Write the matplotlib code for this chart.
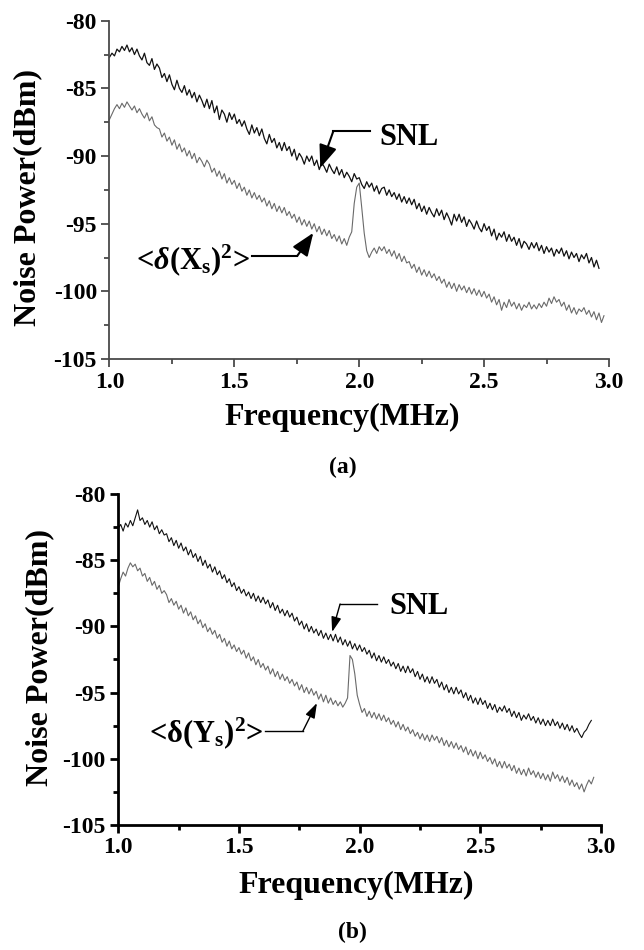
import numpy as np
import matplotlib
matplotlib.use("Agg")
import matplotlib.pyplot as plt

plt.rcParams["font.family"] = ["Liberation Serif", "DejaVu Serif"]
plt.rcParams["font.weight"] = "bold"
plt.rcParams["axes.unicode_minus"] = False
plt.rcParams["mathtext.fontset"] = "custom"
plt.rcParams["mathtext.rm"] = "Liberation Serif:bold"
plt.rcParams["mathtext.it"] = "Liberation Serif:italic:bold"
plt.rcParams["mathtext.bf"] = "Liberation Serif:bold"

# frequency grid (MHz), 1.00 ... 2.99 in 0.01 steps
freq = np.round(np.arange(1.0, 2.995, 0.01), 2)

# panel (a): shot noise limit and squeezed X quadrature
snl_a = [
    -82.7, -82.4, -82.6, -82.1, -82.3, -81.9, -82.2, -81.8, -82.3, -82.0,
    -82.5, -82.1, -82.6, -82.9, -82.4, -83.1, -83.3, -82.8, -83.6, -83.2,
    -83.5, -84.2, -83.9, -84.5, -84.0, -84.7, -85.1, -84.4, -85.0, -85.3,
    -84.8, -85.5, -85.1, -85.7, -85.3, -86.0, -85.5, -85.9, -86.4, -85.8,
    -86.5, -85.9, -86.8, -86.3, -87.3, -86.6, -86.9, -87.5, -86.8, -87.3,
    -86.9, -87.6, -87.3, -87.8, -87.4, -88.0, -88.4, -87.7, -88.3, -87.9,
    -88.5, -88.0, -88.7, -89.1, -88.4, -89.0, -88.7, -89.4, -89.0, -89.6,
    -89.0, -89.6, -89.3, -90.0, -89.5, -90.3, -89.8, -90.1, -90.6, -90.0,
    -90.4, -90.0, -90.7, -90.3, -91.0, -90.5, -90.8, -91.2, -90.6, -91.0,
    -91.3, -90.8, -91.4, -91.0, -91.6, -91.2, -91.5, -91.9, -91.3, -91.7,
    -91.6, -92.1, -92.4, -91.9, -92.3, -92.0, -92.6, -92.2, -92.8, -92.4,
    -92.3, -92.9, -92.5, -93.0, -92.7, -93.2, -92.8, -93.4, -93.0, -93.5,
    -93.1, -93.6, -93.2, -93.9, -93.5, -94.1, -93.7, -94.3, -93.8, -94.2,
    -94.5, -93.9, -94.4, -94.0, -94.7, -94.2, -94.6, -95.1, -94.3, -94.8,
    -94.3, -94.9, -94.5, -95.2, -94.7, -95.0, -95.4, -94.8, -95.3, -95.6,
    -95.0, -95.5, -95.2, -95.9, -95.4, -96.2, -95.7, -96.0, -95.6, -96.3,
    -95.8, -96.3, -96.0, -96.6, -96.1, -96.8, -96.3, -96.5, -96.9, -96.4,
    -96.8, -96.4, -97.0, -96.6, -97.2, -96.7, -97.1, -96.8, -97.4, -96.9,
    -97.2, -96.8, -97.4, -97.0, -97.6, -97.1, -97.5, -97.2, -97.8, -97.3,
    -97.6, -97.2, -97.9, -97.5, -98.2, -97.7, -98.3,
]
sq_a = [
    -87.3, -86.9, -86.5, -86.2, -86.5, -86.1, -86.4, -86.0, -86.3, -86.6,
    -86.3, -86.8, -86.5, -86.9, -87.2, -86.8, -87.4, -87.1, -87.7, -87.9,
    -88.0, -88.6, -88.3, -88.9, -88.6, -89.2, -88.8, -89.5, -89.1, -89.7,
    -89.4, -90.0, -89.6, -90.2, -89.8, -90.5, -90.1, -90.4, -90.8, -90.3,
    -90.6, -91.2, -90.9, -91.5, -91.1, -91.7, -91.3, -92.0, -91.6, -92.1,
    -91.8, -92.4, -92.0, -92.6, -92.3, -92.9, -92.5, -93.1, -92.7, -93.2,
    -92.9, -93.4, -93.1, -93.7, -93.3, -93.9, -93.5, -94.1, -93.7, -94.2,
    -93.8, -94.4, -94.1, -94.6, -94.3, -94.9, -94.5, -95.1, -94.7, -95.2,
    -94.8, -95.4, -95.0, -95.6, -95.2, -95.8, -95.4, -95.9, -95.5, -96.1,
    -95.8, -96.3, -95.9, -96.5, -96.1, -96.6, -96.0, -95.6, -93.5, -92.3,
    -92.0, -93.8, -95.7, -97.0, -97.5, -97.1, -96.8, -97.2, -96.7, -97.0,
    -96.7, -97.2, -96.9, -97.4, -97.0, -97.6, -97.2, -97.8, -97.4, -97.9,
    -97.8, -98.3, -98.0, -98.6, -98.2, -98.8, -98.4, -98.9, -98.5, -99.0,
    -98.7, -99.2, -98.9, -99.4, -99.1, -99.7, -99.3, -99.8, -99.4, -100.0,
    -99.5, -99.9, -99.6, -100.1, -99.7, -100.2, -99.8, -100.3, -99.9, -100.4,
    -100.0, -100.5, -100.2, -100.8, -100.4, -101.0, -100.6, -101.4, -100.8, -101.2,
    -100.6, -101.1, -100.8, -101.3, -100.9, -101.4, -101.0, -101.2, -100.8, -101.3,
    -101.0, -101.3, -100.9, -101.2, -100.8, -101.1, -100.5, -100.9, -100.4, -100.8,
    -100.6, -101.1, -100.8, -101.4, -101.0, -101.6, -101.2, -101.7, -101.3, -101.5,
    -101.2, -101.7, -101.4, -101.9, -101.5, -102.1, -101.6, -102.3, -101.8,
]

# panel (b): shot noise limit and squeezed Y quadrature
snl_b = [
    -82.6, -82.3, -82.8, -82.2, -82.5, -82.0, -82.4, -81.8, -81.2, -82.0,
    -81.8, -82.3, -82.0, -82.5, -82.1, -82.7, -82.4, -83.0, -82.7, -83.1,
    -83.0, -83.6, -83.3, -83.9, -83.5, -84.1, -83.7, -84.3, -84.0, -84.6,
    -84.2, -84.8, -84.5, -85.1, -84.7, -85.4, -85.0, -85.6, -85.3, -85.9,
    -85.5, -86.1, -85.8, -86.4, -86.1, -86.7, -86.4, -87.0, -86.7, -87.3,
    -87.0, -87.5, -87.2, -87.7, -87.4, -87.9, -87.5, -88.1, -87.7, -88.2,
    -87.8, -88.3, -88.0, -88.6, -88.2, -88.8, -88.4, -89.0, -88.7, -89.2,
    -88.8, -89.3, -89.0, -89.6, -89.3, -89.9, -89.6, -90.2, -89.8, -90.4,
    -90.0, -90.5, -90.2, -90.7, -90.3, -90.9, -90.5, -91.0, -90.6, -91.1,
    -90.6, -91.2, -90.8, -91.4, -91.0, -91.5, -91.1, -91.7, -91.3, -91.8,
    -91.4, -91.9, -91.6, -92.1, -91.8, -92.4, -92.0, -92.6, -92.2, -92.7,
    -92.3, -92.8, -92.5, -93.0, -92.7, -93.2, -92.8, -93.4, -93.0, -93.5,
    -93.0, -93.5, -93.2, -93.8, -93.4, -94.0, -93.6, -94.2, -93.8, -94.3,
    -93.8, -94.3, -94.0, -94.6, -94.2, -94.8, -94.4, -95.0, -94.6, -95.1,
    -94.6, -95.1, -94.8, -95.4, -95.0, -95.6, -95.2, -95.8, -95.4, -95.9,
    -95.4, -95.9, -95.6, -96.2, -95.8, -96.3, -95.9, -96.5, -96.1, -96.4,
    -96.0, -96.5, -96.2, -96.8, -96.4, -96.9, -96.5, -97.1, -96.7, -97.0,
    -96.6, -97.1, -96.8, -97.3, -96.9, -97.4, -97.0, -97.5, -97.1, -97.5,
    -97.0, -97.5, -97.2, -97.7, -97.3, -97.8, -97.4, -97.9, -97.5, -98.0,
    -97.7, -98.1, -98.4, -98.0, -97.8, -97.4, -97.1,
]
sq_b = [
    -87.0, -86.4, -85.9, -86.2, -85.6, -85.2, -85.5, -85.3, -85.8, -85.6,
    -86.2, -86.0, -86.6, -86.3, -86.9, -86.6, -87.2, -86.9, -87.5, -87.3,
    -87.6, -88.2, -87.9, -88.4, -88.1, -88.7, -88.4, -89.0, -88.6, -89.2,
    -88.9, -89.5, -89.2, -89.8, -89.5, -90.1, -89.8, -90.4, -90.1, -90.6,
    -90.3, -90.9, -90.6, -91.2, -90.9, -91.5, -91.1, -91.7, -91.4, -91.9,
    -91.6, -92.1, -91.8, -92.4, -92.0, -92.6, -92.3, -92.9, -92.5, -93.1,
    -92.8, -93.3, -93.0, -93.6, -93.2, -93.8, -93.4, -94.0, -93.6, -94.1,
    -93.8, -94.3, -94.0, -94.5, -94.2, -94.8, -94.4, -95.0, -94.6, -95.1,
    -94.7, -95.2, -94.9, -95.5, -95.1, -95.7, -95.2, -95.8, -95.4, -95.9,
    -95.6, -96.0, -95.7, -96.1, -95.8, -95.4, -92.2, -92.5, -93.6, -95.2,
    -95.9, -96.5, -96.2, -96.8, -96.4, -96.9, -96.5, -97.0, -96.6, -97.1,
    -96.7, -97.2, -96.9, -97.4, -97.1, -97.6, -97.2, -97.8, -97.4, -97.9,
    -97.6, -98.1, -97.8, -98.3, -98.0, -98.5, -98.1, -98.6, -98.2, -98.7,
    -98.2, -98.6, -98.3, -98.8, -98.4, -99.0, -98.6, -99.1, -98.7, -99.2,
    -98.8, -99.3, -99.0, -99.5, -99.1, -99.7, -99.3, -99.8, -99.4, -100.0,
    -99.5, -100.0, -99.7, -100.2, -99.9, -100.4, -100.0, -100.6, -100.2, -100.7,
    -100.2, -100.7, -100.4, -100.9, -100.5, -101.1, -100.7, -101.2, -100.8, -101.3,
    -100.7, -101.2, -100.9, -101.4, -101.0, -101.5, -101.1, -101.6, -101.2, -101.7,
    -101.0, -101.5, -101.2, -101.7, -101.3, -101.8, -101.4, -102.0, -101.6, -102.1,
    -101.8, -102.3, -101.9, -102.5, -102.0, -101.6, -101.9, -101.4,
]

xticks = [1.0, 1.5, 2.0, 2.5, 3.0]
yticks = [-80, -85, -90, -95, -100, -105]

fig = plt.figure(figsize=(6.44, 9.5), dpi=100)
ax_a = fig.add_axes([0.170, 0.6221, 0.7756, 0.3561])
ax_b = fig.add_axes([0.1837, 0.1316, 0.7495, 0.3484])


def style(ax, spine_color, spine_lw):
    ax.set_xlim(1.0, 3.0)
    ax.set_ylim(-105, -80)
    ax.set_xticks(xticks)
    ax.set_xticklabels(["%.1f" % t for t in xticks])
    ax.set_yticks(yticks)
    ax.set_yticklabels(["%d" % t for t in yticks])
    ax.set_xticks([1.25, 1.75, 2.25, 2.75], minor=True)
    ax.set_yticks([-82.5, -87.5, -92.5, -97.5, -102.5], minor=True)
    for s in ["top", "right"]:
        ax.spines[s].set_visible(False)
    for s in ["left", "bottom"]:
        ax.spines[s].set_color(spine_color)
        ax.spines[s].set_linewidth(spine_lw)
    ax.tick_params(which="major", direction="out", length=6, width=spine_lw,
                   color=spine_color, labelsize=17, pad=3)
    ax.tick_params(which="minor", direction="out", length=3.5, width=spine_lw,
                   color=spine_color)
    for lab in ax.get_xticklabels() + ax.get_yticklabels():
        lab.set_fontweight("bold")


style(ax_a, "#4a4a4a", 1.3)
style(ax_b, "black", 2.0)

ax_a.plot(freq[:len(snl_a)], snl_a, color="#111111", lw=0.9)
ax_a.plot(freq[:len(sq_a)], sq_a, color="#6a6a6a", lw=0.8)
ax_b.plot(freq[:len(snl_b)], snl_b, color="#111111", lw=0.8)
ax_b.plot(freq[:len(sq_b)], sq_b, color="#6a6a6a", lw=0.8)

# annotations, panel (a)
ax_a.text(2.08, -88.6, "SNL", fontsize=22, fontweight="bold", va="center", ha="left")
ax_a.plot([2.045, 1.896], [-88.18, -88.18], color="black", lw=1.5)
ax_a.annotate("", xy=(1.844, -90.88), xytext=(1.896, -88.18),
              arrowprops=dict(arrowstyle="-|>,head_length=1.4,head_width=0.55",
                              color="black", lw=1.5, shrinkA=0, shrinkB=0))
ax_a.text(1.563, -97.67, r"<$\delta$(X$_{\rm s}$)$^{\rm 2}$>", fontsize=22,
          fontweight="bold", va="center", ha="right")
ax_a.plot([1.571, 1.752], [-97.38, -97.38], color="black", lw=1.5)
ax_a.annotate("", xy=(1.816, -95.68), xytext=(1.752, -97.38),
              arrowprops=dict(arrowstyle="-|>,head_length=1.4,head_width=0.55",
                              color="black", lw=1.5, shrinkA=0, shrinkB=0))

# annotations, panel (b)
ax_b.text(2.122, -88.46, "SNL", fontsize=22, fontweight="bold", va="center", ha="left")
ax_b.plot([2.072, 1.919], [-88.31, -88.31], color="black", lw=1.0)
ax_b.annotate("", xy=(1.886, -90.42), xytext=(1.919, -88.31),
              arrowprops=dict(arrowstyle="-|>,head_length=0.9,head_width=0.3",
                              color="black", lw=1.0, shrinkA=0, shrinkB=0))
ax_b.text(1.599, -98.05, "<δ(Y$_{\\rm s}$)$^{\\rm 2}$>", fontsize=22,
          fontweight="bold", va="center", ha="right")
ax_b.plot([1.608, 1.765], [-97.9, -97.9], color="black", lw=1.0)
ax_b.annotate("", xy=(1.823, -95.79), xytext=(1.765, -97.9),
              arrowprops=dict(arrowstyle="-|>,head_length=0.9,head_width=0.3",
                              color="black", lw=1.0, shrinkA=0, shrinkB=0))

# axis titles and panel labels
fig.text(28 / 644, 1 - 197 / 950, "Noise Power(dBm)", rotation=90, fontsize=23,
         fontweight="bold", ha="center", va="center")
fig.text(342 / 644, 1 - 417 / 950, "Frequency(MHz)", fontsize=23,
         fontweight="bold", ha="center", va="center")
fig.text(343 / 644, 1 - 467 / 950, "(a)", fontsize=17,
         fontweight="bold", ha="center", va="center")

fig.text(40 / 644, 1 - 657 / 950, "Noise Power(dBm)", rotation=90, fontsize=23,
         fontweight="bold", ha="center", va="center")
fig.text(356 / 644, 1 - 885 / 950, "Frequency(MHz)", fontsize=23,
         fontweight="bold", ha="center", va="center")
fig.text(352 / 644, 1 - 932 / 950, "(b)", fontsize=17,
         fontweight="bold", ha="center", va="center")

fig.savefig("out.png", dpi=100)
